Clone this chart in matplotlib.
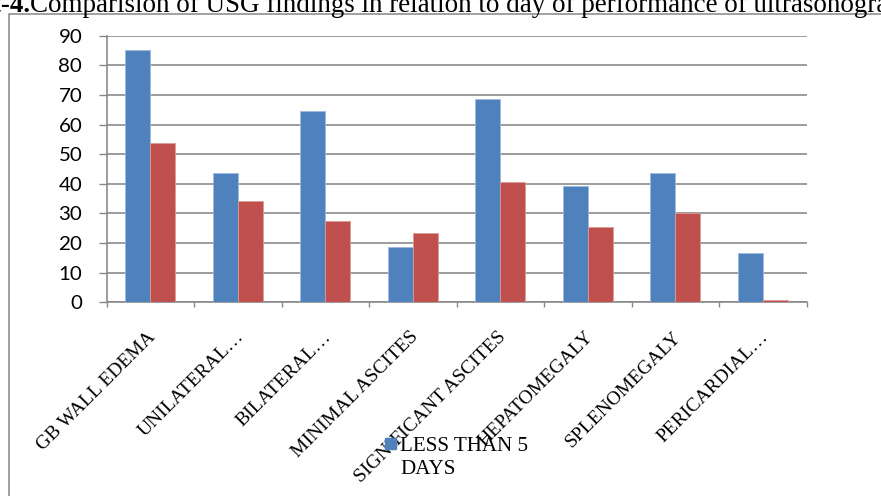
import matplotlib
matplotlib.use("Agg")
import matplotlib.pyplot as plt
import matplotlib.patches as mpatches
from matplotlib.legend_handler import HandlerPatch
from matplotlib.transforms import ScaledTranslation
import numpy as np

# ---- data ----
categories = ["GB WALL EDEMA", "UNILATERAL…", "BILATERAL…", "MINIMAL ASCITES",
              "SIGNIFICANT ASCITES", "HEPATOMEGALY", "SPLENOMEGALY", "PERICARDIAL…"]
less_than_5_days = [85.2, 43.5, 64.5, 18.6, 68.6, 39.4, 43.6, 16.5]
more_than_5_days = [53.8, 34.2, 27.3, 23.5, 40.6, 25.3, 30.1, 0.8]
y_ticks = list(range(0, 100, 10))
legend_label = "LESS THAN 5\nDAYS"
title_bold = "rt-4."
title_rest = "Comparision of USG findings in relation to day of performance of ultrasonography"

BLUE = "#4F81BD"
RED = "#C0504D"
GRID = "#878787"
SERIF = "Liberation Serif"

W, H, DPI = 881, 496, 100
fig = plt.figure(figsize=(W / DPI, H / DPI), dpi=DPI)

def px(v):
    return v * 72.0 / DPI  # pixels -> points

# axes placement (pixels)
left, right, top, bottom = 106.7, 806.7, 35.7, 302.3
ax = fig.add_axes([left / W, 1 - bottom / H, (right - left) / W, (bottom - top) / H])

x = np.arange(len(categories))
bw = 0.286
ax.bar(x - bw / 2, less_than_5_days, bw, color=BLUE, zorder=3,
       edgecolor="#9dbbe0", linewidth=px(0.8))
ax.bar(x + bw / 2, more_than_5_days, bw, color=RED, zorder=3,
       edgecolor="#dc9a98", linewidth=px(0.8))

ax.set_xlim(-0.5, len(categories) - 0.5)
ax.set_ylim(0, 90)

# horizontal gridlines
ax.set_yticks(y_ticks)
ax.yaxis.grid(True, color=GRID, linewidth=px(1.6), zorder=0)
ax.set_axisbelow(True)
ax.tick_params(axis="y", length=px(8.5), width=px(1.4), color=GRID, pad=px(16),
               labelsize=px(20.5))
for lab in ax.get_yticklabels():
    lab.set_fontfamily("Lato")

# x axis: boundaries as minor ticks, labels at category centres
ax.set_xticks(np.arange(len(categories) + 1) - 0.5, minor=True)
ax.set_xticks(x)
ax.set_xticklabels(categories, rotation=45, ha="right", va="center",
                   rotation_mode="anchor", fontfamily=SERIF, fontsize=px(19.5))
ax.tick_params(axis="x", which="major", length=0, pad=px(32))
ax.tick_params(axis="x", which="minor", length=px(5), width=px(1.4), color=GRID)
shift = ScaledTranslation(px(3) / 72, 0, fig.dpi_scale_trans)
for lab in ax.get_xticklabels():
    lab.set_transform(lab.get_transform() + shift)

for side in ("top", "right"):
    ax.spines[side].set_visible(False)
for side in ("left", "bottom"):
    ax.spines[side].set_color(GRID)
    ax.spines[side].set_linewidth(px(1.6))

# legend: square marker aligned with the first line of a wrapped label
fs = px(21)
sq = px(11)

def top_square(legend, orig_handle, xdescent, ydescent, width, height, fontsize):
    return mpatches.Rectangle((-xdescent, -ydescent + px(16)), sq, sq)

leg_handle = mpatches.Patch(color=BLUE)
leg = fig.legend([leg_handle], [legend_label], loc="lower left",
                 bbox_to_anchor=(385 / W, 1 - 479 / H), frameon=False,
                 borderpad=0, borderaxespad=0, handlelength=sq / fs,
                 handletextpad=px(4) / fs,
                 handler_map={mpatches.Patch: HandlerPatch(patch_func=top_square)},
                 prop={"family": SERIF, "size": fs})
leg.get_texts()[0].set_linespacing(1.3)

# outer chart border (continues past the right and bottom edges)
fig.patches.append(mpatches.Rectangle((8.5 / W, -0.1), 1.2, 1 - 13.5 / H + 0.1,
                                      transform=fig.transFigure, fill=False,
                                      edgecolor="#8c8c8c", linewidth=px(1.6),
                                      clip_on=False))

# caption line above the chart (partly outside the canvas)
cap_size = px(27)
base_y = 1 - 11.5 / H
fig.text(30 / W, base_y, title_bold, fontfamily=SERIF, fontweight="bold",
         fontsize=cap_size, ha="right", va="baseline")
fig.text(30 / W, base_y, title_rest, fontfamily=SERIF, fontsize=cap_size,
         ha="left", va="baseline")

fig.savefig("out.png", dpi=DPI)
